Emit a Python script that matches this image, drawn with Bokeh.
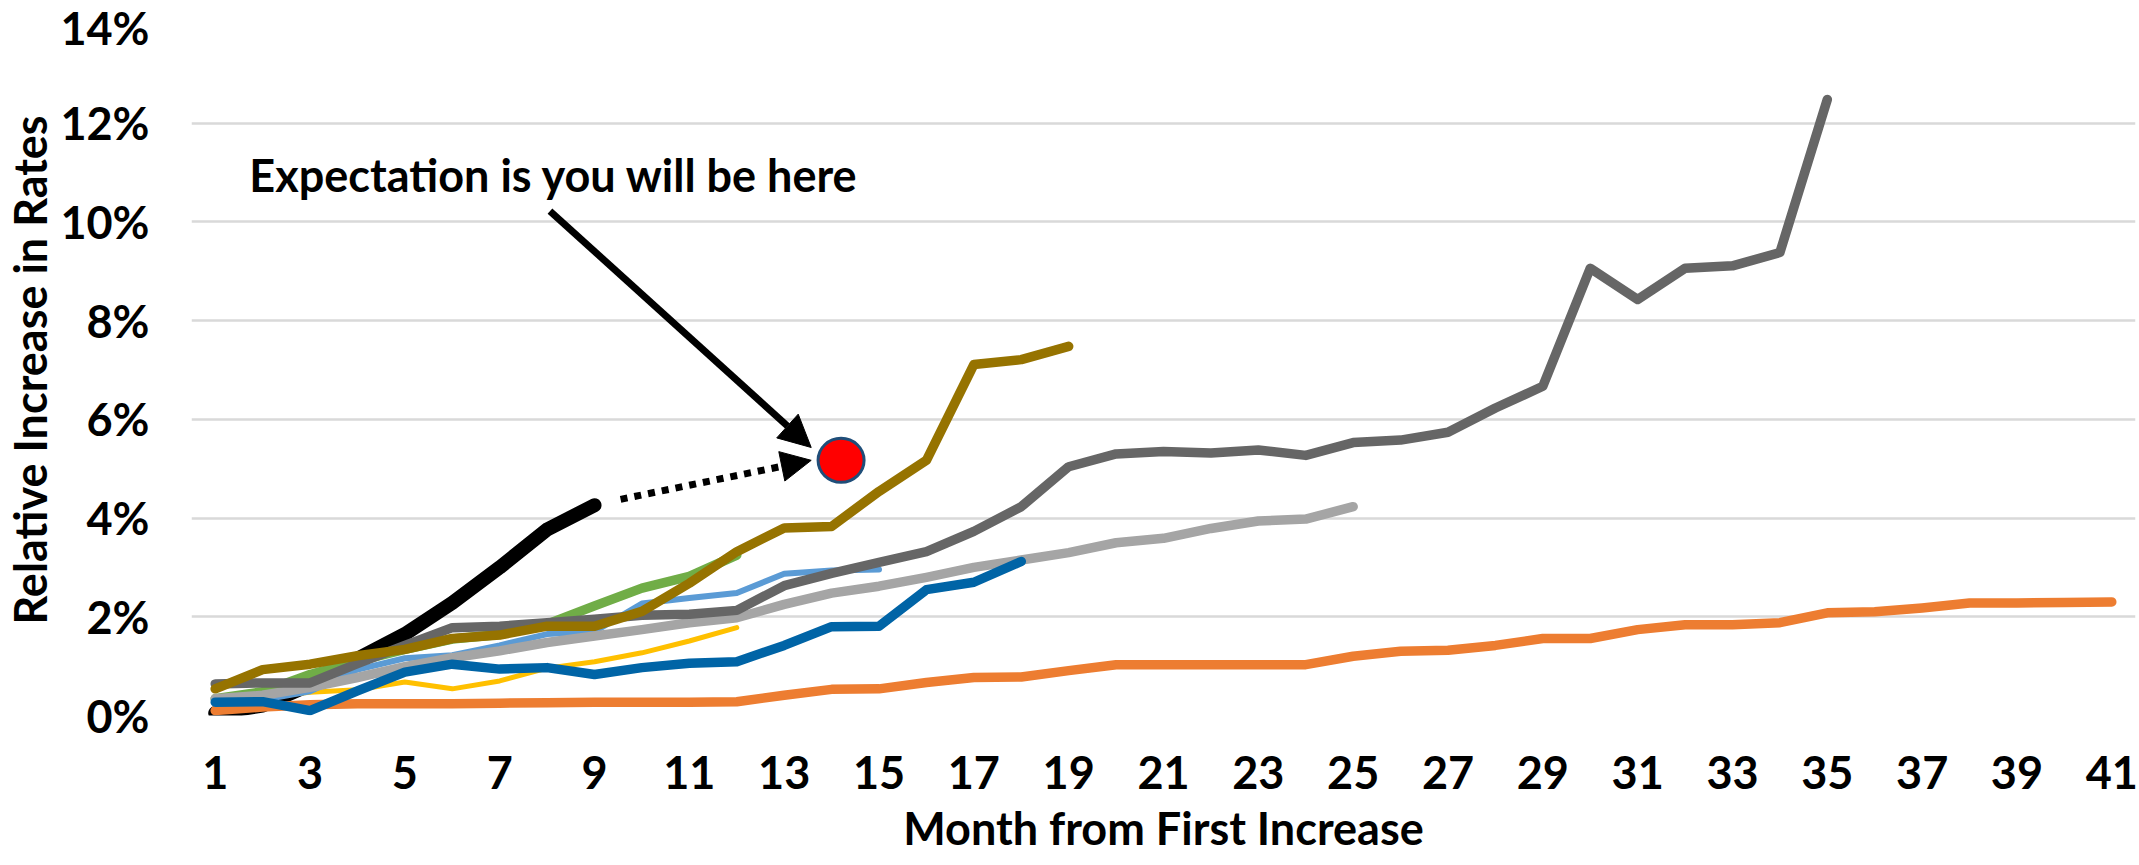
from bokeh.plotting import figure
from bokeh.models import (Range1d, FixedTicker, PrintfTickFormatter, Label,
                          Arrow, NormalHead, ColumnDataSource)
from bokeh.embed import file_html
from bokeh.resources import INLINE

# Relative increase in rates (%) by month since the first increase, one list per cycle
current_cycle = [0.05, 0.20, 0.62, 1.15, 1.65, 2.28, 3.00, 3.77, 4.26]
cycle_yellow = [0.30, 0.37, 0.47, 0.52, 0.68, 0.54, 0.70, 0.96, 1.09, 1.27, 1.51, 1.78]
cycle_green = [0.34, 0.48, 0.83, 1.10, 1.34, 1.55, 1.64, 1.85, 2.22, 2.58, 2.82, 3.25]
cycle_lightblue = [0.28, 0.32, 0.49, 0.93, 1.16, 1.22, 1.42, 1.65, 1.70, 2.27, 2.38,
                   2.48, 2.87, 2.94, 2.96]
cycle_lightgray = [0.34, 0.41, 0.57, 0.77, 0.99, 1.17, 1.31, 1.48, 1.61, 1.74, 1.88,
                   1.98, 2.25, 2.48, 2.62, 2.80, 3.00, 3.15, 3.30, 3.50, 3.59, 3.79,
                   3.94, 3.98, 4.23]
cycle_orange = [0.10, 0.17, 0.22, 0.24, 0.24, 0.24, 0.25, 0.26, 0.27, 0.27, 0.27,
                0.28, 0.41, 0.53, 0.54, 0.67, 0.77, 0.78, 0.91, 1.03, 1.03, 1.03,
                1.03, 1.03, 1.20, 1.30, 1.32, 1.42, 1.56, 1.56, 1.74, 1.84, 1.84,
                1.88, 2.08, 2.10, 2.18, 2.28, 2.28, 2.29, 2.30]
cycle_darkgray = [0.64, 0.66, 0.66, 1.05, 1.42, 1.78, 1.81, 1.88, 1.95, 2.03, 2.05,
                  2.13, 2.63, 2.88, 3.10, 3.32, 3.73, 4.23, 5.04, 5.30, 5.35, 5.32,
                  5.38, 5.27, 5.53, 5.58, 5.74, 6.23, 6.67, 9.06, 8.43, 9.06, 9.11,
                  9.38, 12.48]
cycle_gold = [0.54, 0.93, 1.04, 1.21, 1.34, 1.56, 1.63, 1.81, 1.81, 2.11, 2.68, 3.32,
              3.80, 3.83, 4.54, 5.17, 7.11, 7.21, 7.48]
cycle_blue = [0.27, 0.28, 0.10, 0.50, 0.88, 1.04, 0.94, 0.97, 0.83, 0.97, 1.06, 1.09,
              1.42, 1.80, 1.81, 2.55, 2.70, 3.12]

# Expected position of the current cycle
expected_month = [14.2]
expected_rate = [5.17]

month_ticks = list(range(1, 42, 2))
rate_ticks = list(range(0, 15, 2))

FONT = "Lato"
FONT_SIZE = "45px"

p = figure(width=2139, height=865,
           x_range=Range1d(0.5, 41.5), y_range=Range1d(0, 14),
           output_backend="svg", toolbar_location=None,
           min_border_left=187, min_border_right=4,
           min_border_top=24, min_border_bottom=150)
p.outline_line_color = None
p.background_fill_color = "white"
p.border_fill_color = "white"

# Axes
for ax in (p.xaxis[0], p.yaxis[0]):
    ax.axis_line_color = None
    ax.major_tick_line_color = None
    ax.minor_tick_line_color = None
    ax.major_label_text_font = FONT
    ax.major_label_text_font_style = "bold"
    ax.major_label_text_font_size = FONT_SIZE
    ax.major_label_text_color = "black"
    ax.axis_label_text_font = FONT
    ax.axis_label_text_font_style = "bold"
    ax.axis_label_text_font_size = FONT_SIZE
    ax.axis_label_text_color = "black"

p.xaxis.ticker = FixedTicker(ticks=month_ticks)
p.xaxis.axis_label = "Month from First Increase"
p.xaxis.major_label_standoff = 34
p.xaxis.axis_label_standoff = 9

p.yaxis.ticker = FixedTicker(ticks=rate_ticks)
p.yaxis.formatter = PrintfTickFormatter(format="%d%%")
p.yaxis.axis_label = "Relative Increase in Rates"
p.yaxis.major_label_standoff = 36
p.yaxis.axis_label_standoff = 0

p.xgrid.grid_line_color = None
p.ygrid.grid_line_color = "#D9D9D9"
p.ygrid.grid_line_width = 2.5


def draw(values, color, width):
    src = ColumnDataSource(dict(month=list(range(1, len(values) + 1)), rate=values))
    p.line("month", "rate", source=src, line_color=color, line_width=width,
           line_cap="round", line_join="round")


draw(current_cycle, "#000000", 14)
draw(cycle_yellow, "#FFC000", 5)
draw(cycle_green, "#70AD47", 9.5)
draw(cycle_lightblue, "#5B9BD5", 6)
draw(cycle_lightgray, "#A5A5A5", 9.5)
draw(cycle_orange, "#ED7D31", 9.5)
draw(cycle_darkgray, "#666666", 9.5)
draw(cycle_gold, "#967300", 9.5)
draw(cycle_blue, "#0064A6", 9.5)

# Annotation: where the current cycle is expected to land
p.add_layout(Label(x=1.72, y=10.95, text="Expectation is you will be here",
                   text_font=FONT, text_font_style="bold", text_font_size=FONT_SIZE,
                   text_color="black", text_baseline="middle", text_align="left"))

p.add_layout(Arrow(end=NormalHead(size=32, fill_color="black", line_color="black"),
                   x_start=8.06, y_start=10.22, x_end=13.57, y_end=5.43,
                   line_color="black", line_width=7))

p.add_layout(Arrow(end=NormalHead(size=30, fill_color="black", line_color="black"),
                   x_start=9.55, y_start=4.38, x_end=13.57, y_end=5.17,
                   line_color="black", line_width=7, line_dash="7 7"))

p.ellipse(x=expected_month, y=expected_rate, width=46, height=44,
          width_units="screen", height_units="screen",
          fill_color="#FF0000", line_color="#1F4E79", line_width=3)

open("out.html", "w").write(file_html(p, INLINE))
